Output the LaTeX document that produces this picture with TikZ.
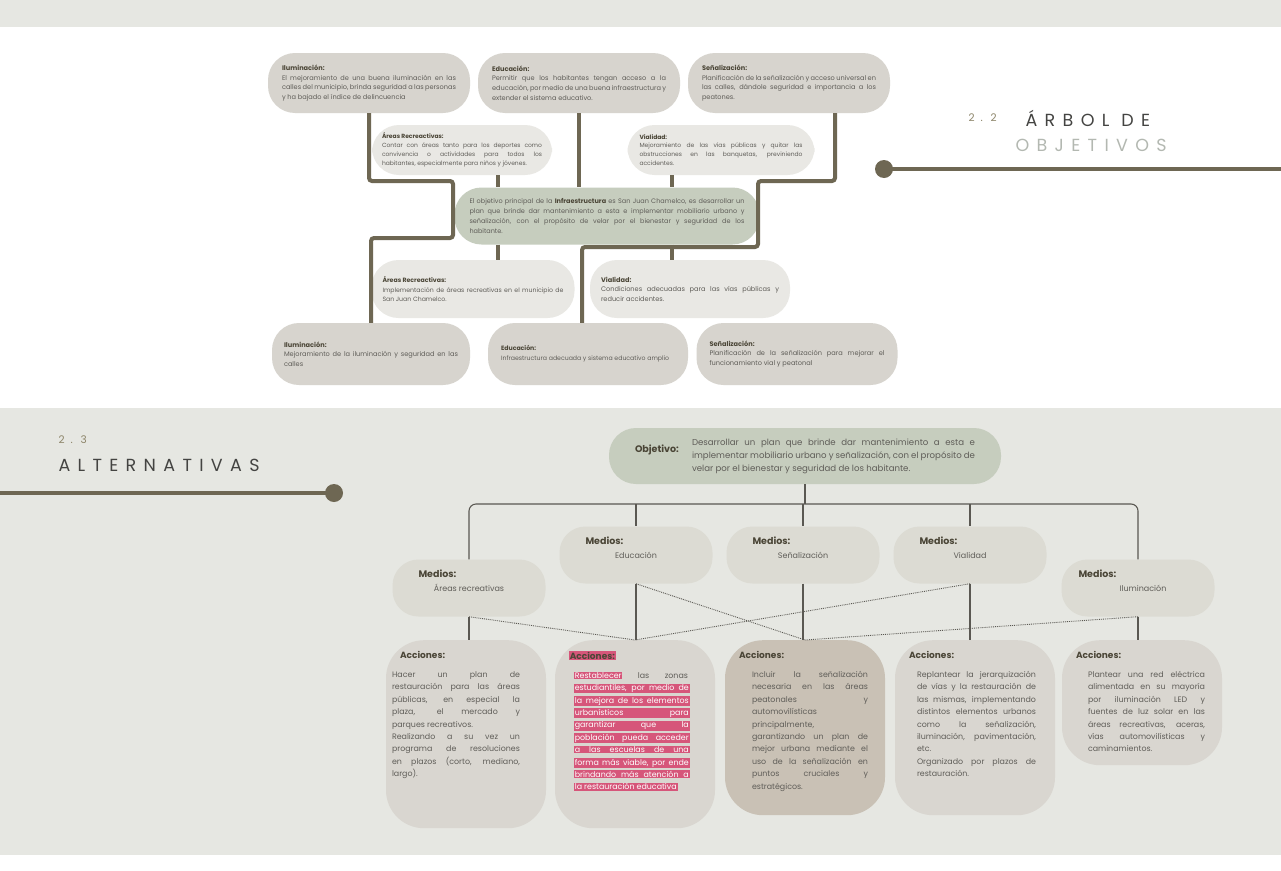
\documentclass[tikz,border=0pt]{standalone}
\usepackage{fontspec}
\setmainfont{Poppins}
\usetikzlibrary{positioning,calc}
\definecolor{band}{HTML}{E6E7E2}
\definecolor{pillA}{HTML}{D7D4CE}
\definecolor{pillB}{HTML}{E9E8E4}
\definecolor{sage}{HTML}{C6CDBE}
\definecolor{olive}{HTML}{6E6753}
\definecolor{ink}{HTML}{5F5D58}
\definecolor{head}{HTML}{4A4536}
\definecolor{medio}{HTML}{DCDBD3}
\definecolor{accbox}{HTML}{D9D6D0}
\definecolor{accdark}{HTML}{C9C1B5}
\definecolor{hlpink}{HTML}{D6567A}
\definecolor{numcol}{HTML}{8C8468}
\definecolor{titcol}{HTML}{444442}
\definecolor{lightT}{HTML}{B3B8B1}
\definecolor{linkc}{HTML}{5A5852}
\hyphenpenalty=10000
\exhyphenpenalty=10000
\newcommand{\hd}[1]{{\bfseries\color{head}#1}}
\newcommand{\pk}[1]{{\setlength{\fboxsep}{0.8pt}\colorbox{hlpink}{\color{white}#1}}}
\newcommand{\pkrow}[1]{\pk{\makebox[114pt][s]{#1}}}
\newcommand{\medio}[2]{\parbox{153pt}{\hspace*{#1}{\fontsize{9.5}{11}\selectfont\bfseries\color{head}Medios:}\par\vspace{5pt}{\centering\fontsize{8}{9}\selectfont #2\par}\vspace*{14pt}}}
\newcommand{\accion}[5]{\parbox[c][#1][t]{160pt}{\vspace*{11pt}\hspace*{14pt}{\fontsize{9}{11}\selectfont\bfseries\color{head}#4}\par\vspace{7pt}\hspace*{#2}\parbox[t]{#3}{\fontsize{7.9}{12.4}\selectfont #5}}}

\begin{document}
\begin{tikzpicture}[x=1pt,y=-1pt,
  pill/.style={rounded corners=27pt, align=justify, inner ysep=3pt, text=ink,
               font=\fontsize{6.6}{9.6}\selectfont},
  pillA/.style={pill, fill=pillA, minimum height=60pt},
  pillB/.style={pill, fill=pillB, minimum height=50pt},
  mid/.style={pill, fill=sage, font=\fontsize{6.5}{9.8}\selectfont},
  med/.style={fill=medio, rounded corners=26pt, inner sep=0pt, minimum height=57pt, text=ink},
  acc/.style={fill=accbox, rounded corners=38pt, inner sep=0pt, anchor=north, text=ink},
  trunk/.style={draw=olive, line width=4pt, rounded corners=3pt},
  link/.style={draw=linkc, line width=1.1pt},
  dotl/.style={draw=linkc, line width=0.9pt, densely dotted},
  bar/.style={draw=olive, line width=4.5pt},
  dot/.style={circle, fill=olive, minimum size=18pt, inner sep=0pt},
  tit/.style={font=\fontsize{17.5}{17}\selectfont\addfontfeature{LetterSpace=42}, anchor=west},
  num/.style={font=\fontsize{10.5}{10}\selectfont\addfontfeature{LetterSpace=30}, text=numcol, anchor=west}
]
\useasboundingbox (0,0) rectangle (1281,870);
\fill[white] (0,0) rectangle (1281,870);
\fill[band] (0,0) rectangle (1281,27);
\fill[band] (0,408) rectangle (1281,855);

% arbol de objetivos
\node[pillA, text width=174pt, inner xsep=14pt] (ilumA) at (369,83) {\hd{Iluminación:}\\ El mejoramiento de una buena iluminación en las\linebreak calles del municipio, brinda seguridad a las personas\linebreak y ha bajado el índice de delincuencia};
\node[pillA, text width=174pt, inner xsep=14pt] (eduA) at (579,83) {\hd{Educación:}\\ Permitir que los habitantes tengan acceso a la\linebreak educación, por medio de una buena infraestructura y\linebreak extender el sistema educativo.};
\node[pillA, text width=174pt, inner xsep=14pt] (senA) at (789,83) {\hd{Señalización:}\\ Planificación de la señalización y acceso universal en\linebreak las calles, dándole seguridad e importancia a los\linebreak peatones.};
\node[pillB, text width=160pt, inner xsep=10pt, font=\fontsize{6}{8.8}\selectfont] (areA) at (462,150) {\hd{Áreas Recreactivas:}\\ Contar con áreas tanto para los deportes como\linebreak convivencia o actividades para todos los\linebreak habitantes, especialmente para niños y jóvenes.};
\node[pillB, text width=163pt, inner xsep=12pt, font=\fontsize{6}{8.8}\selectfont] (vialA) at (721,150) {\hd{Vialidad:}\\ Mejoramiento de las vías públicas y quitar las\linebreak obstrucciones en las banquetas, previniendo\linebreak accidentes.};
\node[mid, text width=275pt, inner xsep=15pt, minimum height=57pt] (objA) at (607,216) {El objetivo principal de la \hd{Infraestructura} es San Juan Chamelco, es desarrollar un\linebreak plan que brinde dar mantenimiento a esta e implementar mobiliario urbano y\linebreak señalización, con el propósito de velar por el bienestar y seguridad de los\linebreak habitante.};
\node[pillB, text width=181pt, inner xsep=11pt, minimum height=58pt, font=\fontsize{6.2}{9.4}\selectfont] (areB) at (473,289) {\hd{Áreas Recreactivas:}\\ Implementación de áreas recreativas en el municipio de\linebreak San Juan Chamelco.};
\node[pillB, text width=178pt, inner xsep=11pt, minimum height=58pt] (vialB) at (690,289) {\hd{Vialidad:}\\ Condiciones adecuadas para las vías públicas y\linebreak reducir accidentes.};
\node[pillA, text width=174pt, inner xsep=12pt, minimum height=62pt] (ilumB) at (371,354) {\hd{Iluminación:}\\ Mejoramiento de la iluminación y seguridad en las\linebreak calles};
\node[pillA, text width=174pt, inner xsep=13pt, minimum height=62pt, font=\fontsize{6.2}{9.6}\selectfont] (eduB) at (588,354) {\hd{Educación:}\\ Infraestructura adecuada y sistema educativo amplio};
\node[pillA, text width=175pt, inner xsep=13pt, minimum height=62pt] (senB) at (797,354) {\hd{Señalización:}\\ Planificación de la señalización para mejorar el\linebreak funcionamiento vial y peatonal};

\coordinate (jl1) at (453,181);
\coordinate (jl2) at (453,238);
\coordinate (jr1) at (758,181);
\coordinate (jr2) at (758,247);
\coordinate (jr3) at (582,247);
\coordinate (s1) at (498,0);
\coordinate (s2) at (672,0);
\draw[trunk] (ilumA.south) |- (jl1) -- (jl2) -| (ilumB.north);
\draw[trunk] ([xshift=46pt]senA.south) |- (jr1) -- (jr2) -- (jr3) -- (jr3 |- eduB.north);
\draw[trunk] (eduA.south) -- (eduA.south |- objA.north);
\draw[trunk] (areA.south -| s1) -- (objA.north -| s1);
\draw[trunk] (vialA.south -| s2) -- (objA.north -| s2);
\draw[trunk] (objA.south -| s1) -- (areB.north -| s1);
\draw[trunk] (objA.south -| s2) -- (vialB.north -| s2);

\node[num] (num22) at (965,118) {2 . 2};
\node[tit, text=titcol] (tit22a) at (1022,118) {ÁRBOL DE};
\node[tit, text=lightT] (tit22b) at (1012,145) {OBJETIVOS};
\node[dot] (dotT) at (884,169) {};
\coordinate (edgeT) at (1281,169);
\draw[bar] (dotT.center) -- (edgeT);

% alternativas
\node[num] (num23) at (55,440) {2 . 3};
\node[tit, text=titcol] (tit23) at (55,465) {ALTERNATIVAS};
\coordinate (edgeB) at (0,493);
\draw[bar] (edgeB) -- (334,493) node[dot] (dotB) {};

\node[fill=sage, rounded corners=27pt, inner sep=0pt, minimum width=392pt, minimum height=56pt, text=ink] (objB) at (805,456) {\parbox[t]{47pt}{\fontsize{9.5}{13}\selectfont\bfseries\color{head}Objetivo:}\hspace{10pt}\parbox[t]{283pt}{\fontsize{8.6}{13}\selectfont Desarrollar un plan que brinde dar mantenimiento a esta e\linebreak implementar mobiliario urbano y señalización, con el propósito de\linebreak velar por el bienestar y seguridad de los habitante.}};

\node[med] (medA) at (469,588) {\medio{26pt}{Áreas recreativas}};
\node[med] (medE) at (636,555) {\medio{26pt}{Educación}};
\node[med] (medS) at (803,555) {\medio{26pt}{Señalización}};
\node[med] (medV) at (970,555) {\medio{26pt}{Vialidad}};
\node[med] (medI) at (1138,588) {\medio{17pt}{\hspace*{10pt}Iluminación}};

\node[acc] (accA) at (466,640) {\accion{188pt}{6pt}{128pt}{Acciones:}{Hacer un plan de\linebreak restauración para las áreas\linebreak públicas, en especial la\linebreak plaza, el mercado y\linebreak parques recreativos.\par Realizando a su vez un\linebreak programa de resoluciones\linebreak en plazos (corto, mediano,\linebreak largo).}};
\node[acc] (accE) at (635,640) {\accion{188pt}{19pt}{116pt}{\pk{\color{head}Acciones:}}{%
  \makebox[114pt][s]{\pk{Restablecer} las zonas}\\
  \pkrow{estudiantiles, por medio de}\\
  \pkrow{la mejora de los elementos}\\
  \pkrow{urbanísticos para}\\
  \pkrow{garantizar que la}\\
  \pkrow{población pueda acceder}\\
  \pkrow{a las escuelas de una}\\
  \pkrow{forma más viable, por ende}\\
  \pkrow{brindando más atención a}\\
  \pk{la restauración educativa}}};
\node[acc, fill=accdark] (accS) at (805,640) {\accion{175pt}{27pt}{116pt}{Acciones:}{Incluir la señalización\linebreak necesaria en las áreas\linebreak peatonales y\linebreak automovilísticas\linebreak principalmente,\linebreak garantizando un plan de\linebreak mejor urbana mediante el\linebreak uso de la señalización en\linebreak puntos cruciales y\linebreak estratégicos.}};
\node[acc] (accV) at (975,640) {\accion{175pt}{22pt}{119pt}{Acciones:}{Replantear la jerarquización\linebreak de vías y la restauración de\linebreak las mismas, implementando\linebreak distintos elementos urbanos\linebreak como la señalización,\linebreak iluminación, pavimentación,\linebreak etc.\par Organizado por plazos de\linebreak restauración.}};
\node[acc] (accI) at (1142,640) {\accion{125pt}{26pt}{117pt}{Acciones:}{Plantear una red eléctrica\linebreak alimentada en su mayoría\linebreak por iluminación LED y\linebreak fuentes de luz solar en las\linebreak áreas recreativas, aceras,\linebreak vías automovilísticas y\linebreak caminamientos.}};

\coordinate (bus) at (805,504);
\draw[link] (objB.south) -- (bus);
\draw[link, rounded corners=7pt] (medA.north) |- (bus) -| (medI.north);
\foreach \m in {medE, medS, medV}
  \draw[link] (\m.north |- bus) -- (\m.north);
\foreach \a/\b in {medA/accA, medE/accE, medS/accS, medV/accV, medI/accI}
  \draw[link] (\a.south) -- (\a.south |- \b.north);
\foreach \a/\b in {medA/accE, medE/accS, medV/accE, medI/accS}
  \draw[dotl] (\a.south) -- (\b.north);
\end{tikzpicture}
\end{document}
